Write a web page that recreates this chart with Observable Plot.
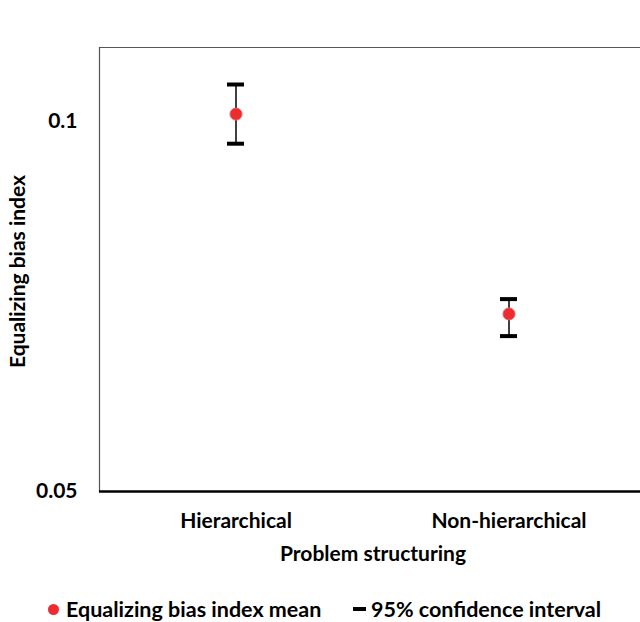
<!DOCTYPE html>
<html>
<head>
<meta charset="utf-8">
<script src="https://cdn.jsdelivr.net/npm/d3@7"></script>
<script src="https://cdn.jsdelivr.net/npm/@observablehq/plot@0.6"></script>
<style>
  html, body { margin: 0; padding: 0; background: #fff; overflow: hidden; }
  #chart svg { display: block; }
  #legend { position: relative; height: 42px; font-family: Lato, sans-serif; font-weight: bold; font-size: 21.5px; color: #000; }
  #legend .item { position: absolute; top: 16px; display: flex; align-items: center; white-space: nowrap; }
  #legend .dot { width: 11px; height: 11px; border-radius: 50%; background: #ee2b2e; margin-right: 7px; }
  #legend .dash { width: 13px; height: 4px; background: #000; margin-right: 5px; }
</style>
</head>
<body>
<div id="chart"></div>
<div id="legend">
  <div class="item" style="left:48px"><span class="dot"></span><span>Equalizing bias index mean</span></div>
  <div class="item" style="left:353px"><span class="dash"></span><span>95% confidence interval</span></div>
</div>
<script>
const categories = ["Hierarchical", "Non-hierarchical"];
const means = [0.101, 0.074];
const lower = [0.097, 0.071];
const upper = [0.105, 0.076];
const yTicks = [0.05, 0.1];
const xTitle = "Problem structuring";
const yTitle = "Equalizing bias index";

const data = categories.map((c, i) => ({cat: c, mean: means[i], lo: lower[i], hi: upper[i]}));

const chart = Plot.plot({
  width: 640,
  height: 580,
  marginTop: 47,
  marginBottom: 89,
  marginLeft: 99,
  marginRight: 0,
  style: {fontFamily: "Lato, sans-serif", fontWeight: "bold", fontSize: "21px", color: "#000", background: "#fff"},
  x: {type: "band", domain: categories, range: [99, 645], padding: 0, axis: null},
  y: {domain: [0.05, 0.11], axis: null},
  marks: [
    Plot.ruleY([0.11], {stroke: "#555", strokeWidth: 1.2}),
    Plot.frame({anchor: "left", stroke: "#555", strokeWidth: 1.2}),
    Plot.ruleY([0.05], {stroke: "#000", strokeWidth: 2.5}),
    Plot.axisY({ticks: yTicks, tickSize: 0, tickPadding: 22, tickFormat: d => String(d), label: null, fontSize: 21}),
    Plot.axisX({tickSize: 0, tickPadding: 22, label: null, fontSize: 21}),
    Plot.text([xTitle], {frameAnchor: "bottom", dx: 3, dy: 69, fontSize: 21, fill: "#000"}),
    Plot.text([yTitle], {frameAnchor: "left", textAnchor: "middle", rotate: -90, dx: -81, dy: 2, fontSize: 21, fill: "#000"}),
    Plot.ruleX(data, {x: "cat", y1: "lo", y2: "hi", stroke: "#000", strokeWidth: 1.5}),
    Plot.tickY(data, {x: "cat", y: "hi", stroke: "#000", strokeWidth: 4, insetLeft: 128, insetRight: 128}),
    Plot.tickY(data, {x: "cat", y: "lo", stroke: "#000", strokeWidth: 4, insetLeft: 128, insetRight: 128}),
    Plot.dot(data, {x: "cat", y: "mean", r: 6, fill: "#ee2b2e", stroke: "#f0585b", strokeWidth: 1})
  ]
});
document.getElementById("chart").appendChild(chart);
</script>
</body>
</html>
